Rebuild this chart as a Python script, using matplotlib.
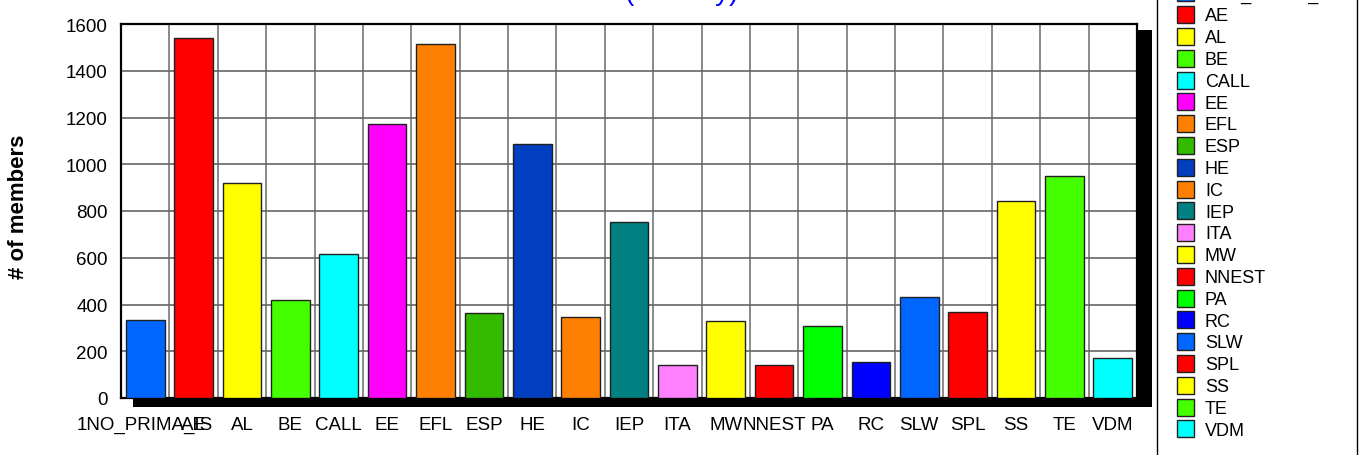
import matplotlib
matplotlib.use("Agg")
import matplotlib.pyplot as plt
from matplotlib.patches import Rectangle

plt.rcParams['font.family'] = ['Liberation Sans', 'DejaVu Sans']

categories = ["1NO_PRIMA_IS", "AE", "AL", "BE", "CALL", "EE", "EFL", "ESP", "HE", "IC",
              "IEP", "ITA", "MW", "NNEST", "PA", "RC", "SLW", "SPL", "SS", "TE", "VDM"]
members = [333, 1540, 918, 419, 616, 1171, 1513, 364, 1088, 346,
           753, 143, 331, 143, 307, 154, 430, 370, 841, 948, 169]
colors = ["#0066ff", "#ff0000", "#ffff00", "#44ff00", "#00ffff", "#ff00ff", "#ff8000",
          "#33bb00", "#0040c0", "#ff8000", "#008080", "#ff80ff", "#ffff00", "#ff0000",
          "#00ff00", "#0000ff", "#0066ff", "#ff0000", "#ffff00", "#44ff00", "#00ffff"]
y_ticks = [0, 200, 400, 600, 800, 1000, 1200, 1400, 1600]
title_text = "(Primary)"
y_label = "# of members"

W, H = 1359, 456
fig = plt.figure(figsize=(W / 100, H / 100), dpi=100)
fig.patch.set_facecolor("white")


def fx(px):
    return px / W


def fy(py):
    return 1 - py / H


# plot area
left, right, top, bottom = 121, 1137, 25, 399
ax = fig.add_axes([fx(left), fy(bottom), fx(right - left), (bottom - top) / H])
ax.set_zorder(2)

# drop shadow
fig.patches.append(Rectangle((fx(133), fy(408)), fx(1152 - 133), (408 - 31) / H,
                             transform=fig.transFigure, facecolor="black",
                             edgecolor="none", zorder=1))

x = list(range(len(categories)))
ax.bar(x, members, width=0.8, color=colors, edgecolor="#202020", linewidth=1.0, zorder=3)

ax.set_xlim(-0.5, len(categories) - 0.5)
ax.set_ylim(0, 1600)
ax.set_yticks(y_ticks)
ax.set_xticks(x)
ax.set_xticklabels(categories)
ax.set_xticks([i + 0.5 for i in range(len(categories) - 1)], minor=True)
ax.tick_params(axis="x", which="both", length=0, labelsize=13.5, pad=13)
ax.tick_params(axis="y", which="both", length=0, labelsize=13.5, pad=9.5)
ax.grid(axis="y", which="major", color="#666666", linewidth=1.2, zorder=0)
ax.grid(axis="x", which="minor", color="#8a8a8a", linewidth=1.4, zorder=0)
ax.set_axisbelow(True)
for s in ax.spines.values():
    s.set_color("black")
    s.set_linewidth(1.6)

fig.text(fx(18.5), fy(207), y_label, rotation=90, fontsize=16, fontweight="bold",
         ha="center", va="center")

# title (mostly above the visible area)
fig.text(fx(681), 1 + 0.5 / H, title_text, color="blue", fontsize=20,
         ha="center", va="baseline")

# legend box
fig.patches.append(Rectangle((fx(1157), fy(470)), fx(1357 - 1157), 500 / H,
                             transform=fig.transFigure, facecolor="white",
                             edgecolor="black", linewidth=1.0, zorder=1))
pitch = 21.8
first_center = 15.7 - pitch
first_baseline = 21.4 - pitch
for i, (cat, col) in enumerate(zip(categories, colors)):
    cy = first_center + i * pitch
    fig.patches.append(Rectangle((fx(1177), fy(cy + 8.5)), fx(17), 17 / H,
                                 transform=fig.transFigure, facecolor=col,
                                 edgecolor="#202020", linewidth=1.0, zorder=2))
    fig.text(fx(1205), fy(first_baseline + i * pitch), cat, fontsize=13,
             ha="left", va="baseline", zorder=3)

fig.savefig("out.png", dpi=100)
